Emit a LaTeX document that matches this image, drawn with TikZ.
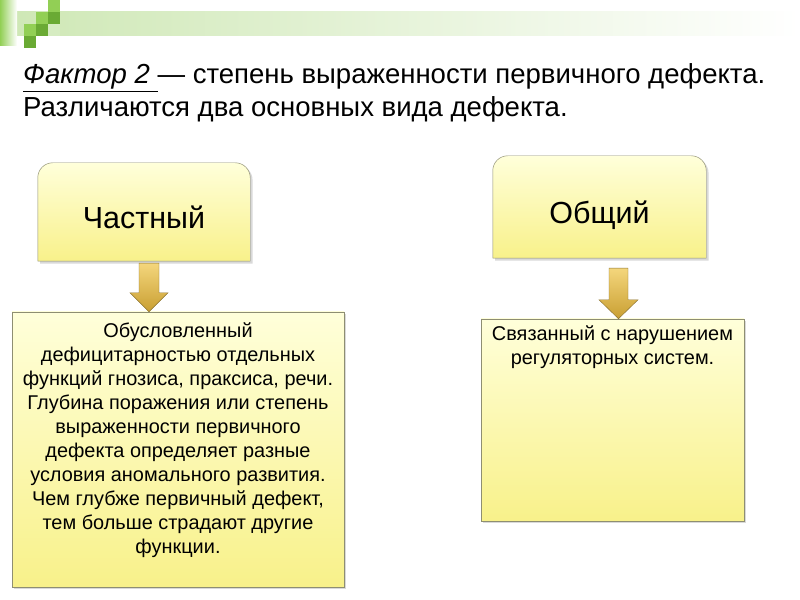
\documentclass[tikz,border=0pt]{standalone}
\usepackage{fontspec}
\setmainfont{Liberation Sans}
\usetikzlibrary{positioning,calc,shadows}
\pgfdeclarelayer{background}
\pgfsetlayers{background,main}
\newdimen\pxu
\pxu=0.03cm
\definecolor{boxtop}{HTML}{FFFFDA}
\definecolor{boxbot}{HTML}{F8F18A}
\definecolor{boxline}{HTML}{8E8E72}
\definecolor{arrtop}{HTML}{F4D67C}
\definecolor{arrbot}{HTML}{C99F32}
\definecolor{arrline}{HTML}{8A7230}
\definecolor{leafgreen}{HTML}{92CF55}
\definecolor{darkgreen}{HTML}{6AAA34}
\definecolor{palegreen}{HTML}{D6ECC2}
\definecolor{barleft}{HTML}{CFE8B6}

\begin{document}
\begin{tikzpicture}[
  x=0.03cm, y=-0.03cm,
  boxshadow/.style={drop shadow={shadow xshift=2pt,shadow yshift=-2pt,opacity=0.3}},
  headfill/.style={draw=boxline,top color=boxtop,bottom color=boxbot,boxshadow},
  headbox/.style={minimum width=212\pxu,minimum height=98\pxu,inner sep=0pt,
    font=\fontsize{26}{31}\selectfont,text height=28pt,text depth=0pt},
  bodybox/.style={draw=boxline,top color=boxtop,bottom color=boxbot,boxshadow,inner sep=0pt},
  bodytext/.style={inner sep=0pt,align=center,font=\fontsize{17}{20.5}\selectfont},
  blockarrow/.style={draw=arrline,top color=arrtop,bottom color=arrbot},
  titletext/.style={anchor=base west,inner sep=0pt,font=\fontsize{23.5}{28}\selectfont}
]
\useasboundingbox (0,0) rectangle (800,600);

% slide header marks
\shade[left color=barleft,right color=white] (17,12) rectangle (800,36);
\shade[left color=leafgreen,right color=white] (0,0) rectangle (17,46);
\fill[leafgreen] (48,0) rectangle (60,12);
\fill[leafgreen] (36,12) rectangle (48,24);
\fill[darkgreen] (48,12) rectangle (60,24);
\fill[leafgreen] (24,24) rectangle (36,36);
\fill[darkgreen] (36,24) rectangle (48,36);
\fill[palegreen] (48,24) rectangle (60,36);
\fill[darkgreen] (24,36) rectangle (36,48);

% title
\node[titletext] (t1) at (23,84) {\underline{\textit{Фактор 2}\ }— степень выраженности первичного дефекта.};
\node[titletext] (t2) at (23,117) {Различаются два основных вида дефекта.};

% two kinds
\node[headbox] (ch) at (144,212) {Частный};
\node[headbox,minimum width=213\pxu,minimum height=102\pxu] (ob) at (599.5,207) {Общий};
\begin{pgfonlayer}{background}
  \shade[headfill] (ch.south west) [rounded corners=15\pxu] -- (ch.north west) -- (ch.north east) [sharp corners] -- (ch.south east) -- cycle;
  \shade[headfill] (ob.south west) [rounded corners=15\pxu] -- (ob.north west) -- (ob.north east) [sharp corners] -- (ob.south east) -- cycle;
\end{pgfonlayer}

% descriptions
\node[bodybox,minimum width=332\pxu,minimum height=275\pxu] (b1) at (178,449.5) {};
\node[bodybox,minimum width=263\pxu,minimum height=202\pxu] (b2) at (612.5,420) {};
\node[bodytext,below=11\pxu of b1.north] (b1t) {Обусловленный\\дефицитарностью отдельных\\функций гнозиса, праксиса, речи.\\Глубина поражения или степень\\выраженности первичного\\дефекта определяет разные\\условия аномального развития.\\Чем глубже первичный дефект,\\тем больше страдают другие\\функции.};
\node[bodytext,below=7\pxu of b2.north] (b2t) {Связанный с нарушением\\регуляторных систем.};

% arrows
\coordinate (a1top) at ($(ch.south)+(5,2)$);
\coordinate (a1tip) at ($(b1.north)+(-29,0)$);
\shade[blockarrow] ($(a1top)+(-10,0)$) -- ($(a1top)+(10,0)$) -- ($(a1tip)+(10,-19)$) -- ($(a1tip)+(19,-19)$) -- (a1tip) -- ($(a1tip)+(-19,-19)$) -- ($(a1tip)+(-10,-19)$) -- cycle;
\coordinate (a2top) at ($(ob.south)+(19,10)$);
\coordinate (a2tip) at ($(b2.north)+(6,0)$);
\shade[blockarrow] ($(a2top)+(-9.5,0)$) -- ($(a2top)+(9.5,0)$) -- ($(a2tip)+(9.5,-19)$) -- ($(a2tip)+(19.5,-19)$) -- (a2tip) -- ($(a2tip)+(-19.5,-19)$) -- ($(a2tip)+(-9.5,-19)$) -- cycle;
\end{tikzpicture}
\end{document}
